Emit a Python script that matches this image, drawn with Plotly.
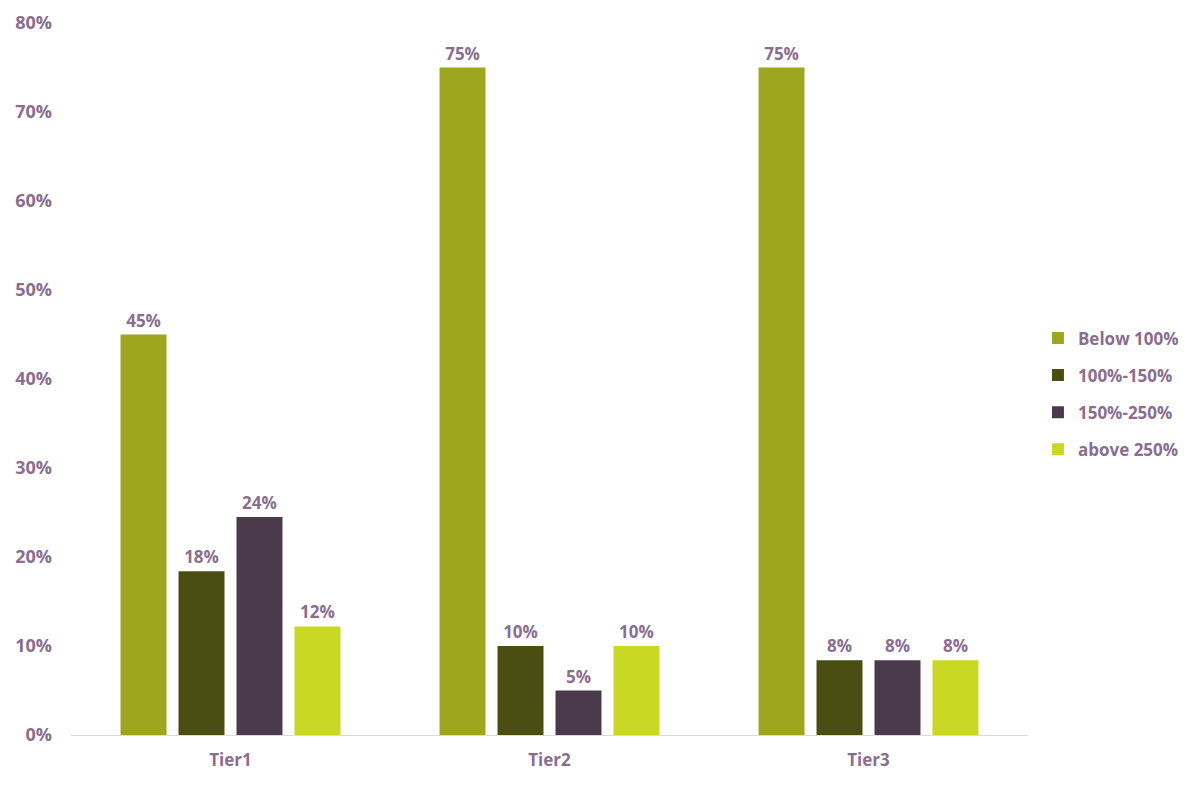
import plotly.graph_objects as go

categories = ["Tier1", "Tier2", "Tier3"]
series_names = ["Below 100%", "100%-150%", "150%-250%", "above 250%"]
below_100 = [0.45, 0.75, 0.75]
p100_150 = [0.184, 0.10, 0.084]
p150_250 = [0.245, 0.05, 0.084]
above_250 = [0.122, 0.10, 0.084]
colors = ["#9da61f", "#4a4e10", "#4a3a4b", "#c9d725"]
y_ticks = [0, 0.1, 0.2, 0.3, 0.4, 0.5, 0.6, 0.7, 0.8]

text_color = "#8a6e8f"
font_family = "Open Sans"

fig = go.Figure()
for name, vals, col in zip(series_names, [below_100, p100_150, p150_250, above_250], colors):
    fig.add_trace(go.Bar(
        x=categories, y=vals, name=name, legendgroup=name,
        marker=dict(color=col, line=dict(width=0)),
        text=[f"{round(v*100):.0f}%" for v in vals],
        textposition="outside",
        textfont=dict(family=font_family, size=17, color=text_color, weight="bold"),
        cliponaxis=False,
    ))

fig.update_layout(
    barmode="group",
    bargap=0.273,
    bargroupgap=0.207,
    width=1200, height=788,
    margin=dict(l=63, r=180, t=15, b=61),
    paper_bgcolor="white",
    plot_bgcolor="white",
    font=dict(family=font_family, color=text_color, size=17, weight="bold"),
    showlegend=True,
    legend=dict(
        x=1.0104, y=0.479, xanchor="left", yanchor="middle",
        font=dict(family=font_family, size=17, color=text_color, weight="bold"),
        itemwidth=30, tracegroupgap=12,
    ),
)
fig.update_xaxes(
    showgrid=False, showline=True, linecolor="#e3d6e3", linewidth=1,
    ticks="", automargin=False, ticklabelstandoff=10,
    tickfont=dict(family=font_family, size=17, color=text_color, weight="bold"),
)
fig.update_yaxes(
    range=[0, 0.8], tickvals=y_ticks, tickformat=".0%",
    showgrid=False, zeroline=False, showline=False, automargin=False,
    ticklabelstandoff=18,
    tickfont=dict(family=font_family, size=18, color=text_color, weight="bold"),
)

fig.write_html("out.html")
